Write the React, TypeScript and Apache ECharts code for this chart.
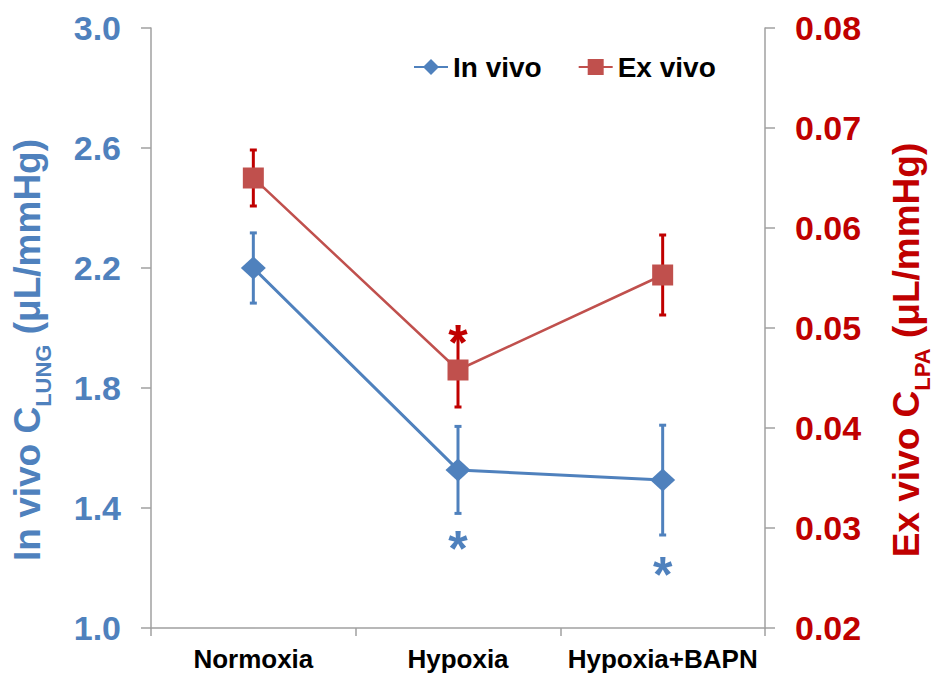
import React, { useEffect, useRef } from "react";
import * as echarts from "echarts";

const categories = ["Normoxia", "Hypoxia", "Hypoxia+BAPN"];
const inVivo = [2.2, 1.527, 1.493];
const inVivoErr = [0.117, 0.145, 0.183];
const exVivo = [0.065, 0.0458, 0.0553];
const exVivoErr = [0.0028, 0.0037, 0.004];
const inVivoSig = [null, 1.297, 1.21];
const exVivoSig = [null, 0.0495, null];
const leftTicks = { min: 1.0, max: 3.0, interval: 0.4 };
const rightTicks = { min: 0.02, max: 0.08, interval: 0.01 };

const BLUE = "#4f81bd";
const RED = "#c0504d";
const DARKRED = "#c00000";
const FONT = "'Liberation Sans', Arial, sans-serif";
const AXIS_GREY = "#a0a0a0";

function errorBarSeries(name: string, vals: number[], errs: number[], yAxisIndex: number, color: string) {
  return {
    name: name + "-err",
    type: "custom",
    yAxisIndex,
    z: 1,
    silent: true,
    encode: { x: 0, y: [1, 2] },
    data: vals.map((v, i) => [i, v - errs[i], v + errs[i]]),
    renderItem: (params: any, api: any) => {
      const x = api.value(0);
      const lo = api.coord([x, api.value(1)]);
      const hi = api.coord([x, api.value(2)]);
      const cap = 3.5;
      const st = { stroke: color, lineWidth: 3 };
      return {
        type: "group",
        children: [
          { type: "line", shape: { x1: lo[0], y1: lo[1], x2: hi[0], y2: hi[1] }, style: st },
          { type: "line", shape: { x1: lo[0] - cap, y1: lo[1], x2: lo[0] + cap, y2: lo[1] }, style: st },
          { type: "line", shape: { x1: hi[0] - cap, y1: hi[1], x2: hi[0] + cap, y2: hi[1] }, style: st },
        ],
      };
    },
  };
}

function starSeries(name: string, sig: (number | null)[], yAxisIndex: number, color: string) {
  const fs = 50;
  return {
    name: name + "-sig",
    type: "custom",
    yAxisIndex,
    z: 5,
    silent: true,
    encode: { x: 0, y: 1 },
    data: sig.map((v, i) => (v == null ? null : [i, v])).filter((d) => d != null),
    renderItem: (params: any, api: any) => {
      const p = api.coord([api.value(0), api.value(1)]);
      return {
        type: "text",
        x: p[0],
        y: p[1] + 0.2 * fs,
        style: {
          text: "*",
          fill: color,
          fontSize: fs,
          fontWeight: "bold",
          fontFamily: FONT,
          align: "center",
          verticalAlign: "middle",
        },
      };
    },
  };
}

function axisTitle(x: number, y: number, main: string, sub: string, unit: string, color: string) {
  return {
    type: "text",
    x,
    y,
    rotation: Math.PI / 2,
    z: 10,
    style: {
      text: `{m|${main}}{s|${sub}}{m|${unit}}`,
      align: "center",
      verticalAlign: "middle",
      rich: {
        m: { fontSize: 37, fontWeight: "bold", fontFamily: FONT, fill: color, lineHeight: 37, verticalAlign: "top" },
        s: {
          fontSize: 22,
          fontWeight: "bold",
          fontFamily: FONT,
          fill: color,
          lineHeight: 22,
          verticalAlign: "top",
          padding: [24, 0, 0, 0],
        },
      },
    },
  };
}

export default function App() {
  const ref = useRef<HTMLDivElement>(null);
  useEffect(() => {
    document.body.style.margin = "0";
    const chart = echarts.init(ref.current!, null, { renderer: "svg" });
    const option: any = {
      animation: false,
      backgroundColor: "#ffffff",
      grid: { left: 151, right: 169, top: 28, bottom: 49, containLabel: false, outerBoundsMode: "none" },
      legend: {
        data: ["In vivo", "Ex vivo"],
        left: 408,
        top: 48,
        itemWidth: 34,
        itemHeight: 20,
        itemGap: 36,
        textStyle: { fontSize: 28, fontWeight: "bold", color: "#000", fontFamily: FONT },
      },
      xAxis: {
        type: "category",
        data: categories,
        boundaryGap: true,
        axisLine: { lineStyle: { color: AXIS_GREY, width: 1.5 } },
        axisTick: { show: true, length: 8, lineStyle: { color: AXIS_GREY, width: 1.5 } },
        axisLabel: {
          interval: 0,
          margin: 18,
          fontSize: 26,
          fontWeight: "bold",
          color: "#000",
          fontFamily: FONT,
        },
        splitLine: { show: false },
      },
      yAxis: [
        {
          type: "value",
          position: "left",
          min: leftTicks.min,
          max: leftTicks.max,
          interval: leftTicks.interval,
          axisLine: { show: true, lineStyle: { color: AXIS_GREY, width: 1.5 } },
          axisTick: { show: true, length: 10, lineStyle: { color: AXIS_GREY, width: 1.5 } },
          axisLabel: {
            margin: 30,
            fontSize: 34,
            fontWeight: "bold",
            color: BLUE,
            fontFamily: FONT,
            formatter: (v: number) => v.toFixed(1),
          },
          splitLine: { show: false },
        },
        {
          type: "value",
          position: "right",
          min: rightTicks.min,
          max: rightTicks.max,
          interval: rightTicks.interval,
          axisLine: { show: true, lineStyle: { color: AXIS_GREY, width: 1.5 } },
          axisTick: { show: true, length: 10, lineStyle: { color: AXIS_GREY, width: 1.5 } },
          axisLabel: {
            margin: 30,
            fontSize: 34,
            fontWeight: "bold",
            color: DARKRED,
            fontFamily: FONT,
            formatter: (v: number) => v.toFixed(2),
          },
          splitLine: { show: false },
        },
      ],
      graphic: [
        axisTitle(27, 350, "In vivo C", "LUNG", " (μL/mmHg)", BLUE),
        axisTitle(906, 350, "Ex vivo C", "LPA", " (μL/mmHg)", DARKRED),
      ],
      series: [
        errorBarSeries("In vivo", inVivo, inVivoErr, 0, BLUE),
        errorBarSeries("Ex vivo", exVivo, exVivoErr, 1, DARKRED),
        {
          name: "In vivo",
          type: "line",
          yAxisIndex: 0,
          data: inVivo,
          z: 3,
          symbol: "diamond",
          symbolSize: [25, 23],
          lineStyle: { color: BLUE, width: 3 },
          itemStyle: { color: BLUE },
        },
        {
          name: "Ex vivo",
          type: "line",
          yAxisIndex: 1,
          data: exVivo,
          z: 3,
          symbol: "rect",
          symbolSize: [21, 21],
          lineStyle: { color: RED, width: 2.5 },
          itemStyle: { color: RED },
        },
        starSeries("In vivo", inVivoSig, 0, BLUE),
        starSeries("Ex vivo", exVivoSig, 1, DARKRED),
      ],
    };
    chart.setOption(option);
    return () => chart.dispose();
  }, []);
  return <div ref={ref} style={{ width: 934, height: 677 }} />;
}
